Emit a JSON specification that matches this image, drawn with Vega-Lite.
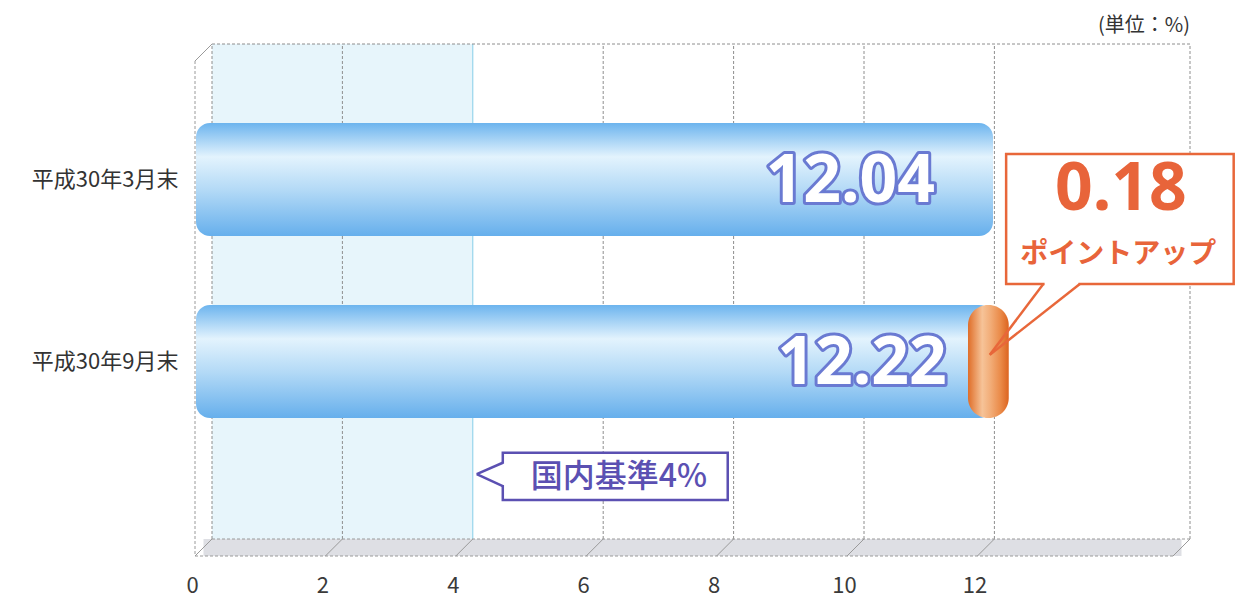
{
  "$schema": "https://vega.github.io/schema/vega-lite/v6.json",
  "width": 978,
  "height": 495,
  "autosize": {"type": "none"},
  "padding": {"left": 212, "top": 44, "right": 69, "bottom": 65},
  "background": "white",
  "title": {"text": "(単位：%)", "anchor": "end", "frame": "group", "fontSize": 20, "fontWeight": "normal", "color": "#333333", "font": "Noto Sans CJK JP", "offset": 8},
  "config": {
    "view": {"stroke": null},
    "font": "Noto Sans CJK JP",
    "axisX": {"labelFontSize": 22, "labelColor": "#3a3a3a", "labelPadding": 36, "labelOffset": -20, "labelFlush": false, "tickSize": 0, "ticks": false, "domain": false, "grid": false, "labelFont": "Noto Sans CJK JP"},
    "axisY": {"labelFontSize": 22, "labelColor": "#333333", "labelPadding": 34, "tickSize": 0, "ticks": false, "domain": false, "grid": false, "labelFont": "Noto Sans CJK JP"}
  },
  "datasets": {
    "bars": [
      {"period": "平成30年3月末", "value": 12.04, "base": 12.04},
      {"period": "平成30年9月末", "value": 12.22, "base": 12.04}
    ],
    "grid": [{"v": 0}, {"v": 2}, {"v": 4}, {"v": 6}, {"v": 8}, {"v": 10}, {"v": 12}, {"v": 15}],
    "one": [{}]
  },
  "resolve": {"scale": {"y": "independent"}, "axis": {"y": "independent"}},
  "layer": [
    {
      "data": {"name": "grid"},
      "transform": [{"filter": "datum.v === 0"}],
      "mark": {"type": "rect", "fill": "#e7f5fb"},
      "encoding": {
        "x": {"field": "v", "type": "quantitative", "title": null, "scale": {"domain": [0, 15], "nice": false, "zero": false}, "axis": {"values": [0, 2, 4, 6, 8, 10, 12], "format": "d"}},
        "x2": {"datum": 4},
        "y": {"datum": 0, "type": "quantitative", "scale": {"domain": [0, 1], "nice": false}, "axis": null, "title": null},
        "y2": {"datum": 1}
      }
    },
    {
      "data": {"name": "one"},
      "mark": {"type": "rect", "fill": "#dedfe4", "xOffset": -8.5, "x2Offset": -8.5, "y2Offset": 17},
      "encoding": {
        "x": {"datum": 0, "type": "quantitative", "title": null},
        "x2": {"datum": 15},
        "y": {"datum": 0, "type": "quantitative", "scale": {"domain": [0, 1], "nice": false}, "axis": null, "title": null},
        "y2": {"datum": 0}
      }
    },
    {
      "data": {"name": "grid"},
      "mark": {"type": "rule", "strokeWidth": 1},
      "encoding": {
        "x": {"field": "v", "type": "quantitative", "title": null},
        "y": {"datum": 0, "type": "quantitative", "scale": {"domain": [0, 1], "nice": false}, "axis": null, "title": null},
        "y2": {"datum": 1},
        "color": {"condition": {"test": "datum.v === 4", "value": "#86cde8"}, "value": "#8e8e8e"},
        "strokeDash": {"condition": {"test": "datum.v === 4", "value": [1, 0]}, "value": [3, 2]}
      }
    },
    {
      "data": {"name": "grid"},
      "mark": {"type": "rule", "color": "#9a9a9a", "strokeWidth": 1, "x2Offset": -17, "y2Offset": 17},
      "encoding": {
        "x": {"field": "v", "type": "quantitative", "title": null},
        "x2": {"field": "v"},
        "y": {"datum": 0, "type": "quantitative", "scale": {"domain": [0, 1], "nice": false}, "axis": null, "title": null},
        "y2": {"datum": 0}
      }
    },
    {
      "data": {"name": "one"},
      "mark": {"type": "rule", "color": "#8e8e8e", "strokeDash": [3, 2], "strokeWidth": 1},
      "encoding": {
        "x": {"datum": 0, "type": "quantitative", "title": null},
        "x2": {"datum": 15},
        "y": {"datum": 1, "type": "quantitative", "scale": {"domain": [0, 1], "nice": false}, "axis": null, "title": null}
      }
    },
    {
      "data": {"name": "one"},
      "mark": {"type": "rule", "color": "#9a9a9a", "strokeDash": [3, 2], "strokeWidth": 1},
      "encoding": {
        "x": {"datum": 0, "type": "quantitative", "title": null},
        "x2": {"datum": 15},
        "y": {"datum": 0, "type": "quantitative", "scale": {"domain": [0, 1], "nice": false}, "axis": null, "title": null}
      }
    },
    {
      "data": {"name": "one"},
      "mark": {"type": "rule", "color": "#9a9a9a", "strokeDash": [3, 2], "strokeWidth": 1, "xOffset": -17, "x2Offset": -17, "yOffset": 17},
      "encoding": {
        "x": {"datum": 0, "type": "quantitative", "title": null},
        "x2": {"datum": 15},
        "y": {"datum": 0, "type": "quantitative", "scale": {"domain": [0, 1], "nice": false}, "axis": null, "title": null}
      }
    },
    {
      "data": {"name": "one"},
      "mark": {"type": "rule", "color": "#9a9a9a", "strokeDash": [3, 2], "strokeWidth": 1, "xOffset": -17, "yOffset": 17, "y2Offset": 17},
      "encoding": {
        "x": {"datum": 0, "type": "quantitative", "title": null},
        "y": {"datum": 1, "type": "quantitative", "scale": {"domain": [0, 1], "nice": false}, "axis": null, "title": null},
        "y2": {"datum": 0}
      }
    },
    {
      "data": {"name": "one"},
      "mark": {"type": "rule", "color": "#9a9a9a", "strokeWidth": 1, "x2Offset": -17, "y2Offset": 17},
      "encoding": {
        "x": {"datum": 0, "type": "quantitative", "title": null},
        "x2": {"datum": 0},
        "y": {"datum": 1, "type": "quantitative", "scale": {"domain": [0, 1], "nice": false}, "axis": null, "title": null},
        "y2": {"datum": 1}
      }
    },
    {
      "data": {"name": "bars"},
      "mark": {"type": "rect", "cornerRadius": 14, "xOffset": -4, "x2Offset": -16,
        "fill": {"gradient": "linear", "x1": 0, "y1": 0, "x2": 0, "y2": 1, "stops": [
          {"offset": 0, "color": "#6cb4ee"},
          {"offset": 0.3, "color": "#e3f3fd"},
          {"offset": 0.6, "color": "#b2d9f6"},
          {"offset": 1, "color": "#66afec"}]}},
      "encoding": {
        "y": {"field": "period", "type": "nominal", "title": null, "sort": null,
          "scale": {"type": "band", "domain": ["平成30年3月末", "平成30年9月末"], "paddingInner": 0.379, "paddingOuter": 0.5494, "align": 0.395}},
        "x": {"field": "base", "type": "quantitative", "title": null},
        "x2": {"datum": 0}
      }
    },
    {
      "data": {"name": "bars"},
      "transform": [{"filter": "datum.value > datum.base"}],
      "mark": {"type": "rect", "cornerRadius": 20, "xOffset": -29,
        "fill": {"gradient": "linear", "x1": 0, "y1": 0, "x2": 1, "y2": 0, "stops": [
          {"offset": 0, "color": "#df6d28"},
          {"offset": 0.35, "color": "#f6c398"},
          {"offset": 0.55, "color": "#f2ad78"},
          {"offset": 0.8, "color": "#ea8a48"},
          {"offset": 1, "color": "#dc6420"}]}},
      "encoding": {
        "y": {"field": "period", "type": "nominal", "title": null, "axis": null,
          "scale": {"type": "band", "domain": ["平成30年3月末", "平成30年9月末"], "paddingInner": 0.379, "paddingOuter": 0.5494, "align": 0.395}},
        "x": {"field": "base", "type": "quantitative", "title": null},
        "x2": {"field": "value"}
      }
    },
    {
      "data": {"name": "bars"},
      "mark": {"type": "text", "align": "right", "baseline": "middle", "dx": -62, "dy": 2, "fontSize": 66, "fontWeight": "bold", "font": "Noto Sans", "fill": "#6a7ad2", "stroke": "#6a7ad2", "strokeWidth": 6, "strokeJoin": "round"},
      "encoding": {
        "y": {"field": "period", "type": "nominal", "title": null, "axis": null, "bandPosition": 0.5,
          "scale": {"type": "band", "domain": ["平成30年3月末", "平成30年9月末"], "paddingInner": 0.379, "paddingOuter": 0.5494, "align": 0.395}},
        "x": {"field": "value", "type": "quantitative", "title": null},
        "text": {"field": "value", "type": "quantitative", "format": ".2f"}
      }
    },
    {
      "data": {"name": "bars"},
      "mark": {"type": "text", "align": "right", "baseline": "middle", "dx": -62, "dy": 2, "fontSize": 66, "fontWeight": "bold", "font": "Noto Sans", "fill": "#ffffff"},
      "encoding": {
        "y": {"field": "period", "type": "nominal", "title": null, "axis": null, "bandPosition": 0.5,
          "scale": {"type": "band", "domain": ["平成30年3月末", "平成30年9月末"], "paddingInner": 0.379, "paddingOuter": 0.5494, "align": 0.395}},
        "x": {"field": "value", "type": "quantitative", "title": null},
        "text": {"field": "value", "type": "quantitative", "format": ".2f"}
      }
    },
    {
      "data": {"name": "one"},
      "mark": {"type": "rect", "fill": "white", "stroke": "#e8673a", "strokeWidth": 2.5},
      "encoding": {
        "x": {"datum": 12.18, "type": "quantitative", "title": null},
        "x2": {"datum": 15.67},
        "y": {"datum": 0.515, "type": "quantitative", "scale": {"domain": [0, 1], "nice": false}, "axis": null, "title": null},
        "y2": {"datum": 0.778}
      }
    },
    {
      "data": {"name": "one"},
      "mark": {"type": "rule", "color": "white", "strokeWidth": 5},
      "encoding": {
        "x": {"datum": 12.77, "type": "quantitative", "title": null},
        "x2": {"datum": 13.29},
        "y": {"datum": 0.515, "type": "quantitative", "scale": {"domain": [0, 1], "nice": false}, "axis": null, "title": null}
      }
    },
    {
      "data": {"name": "one"},
      "mark": {"type": "rule", "color": "#e8673a", "strokeWidth": 2.5},
      "encoding": {
        "x": {"datum": 12.75, "type": "quantitative", "title": null},
        "x2": {"datum": 11.93},
        "y": {"datum": 0.515, "type": "quantitative", "scale": {"domain": [0, 1], "nice": false}, "axis": null, "title": null},
        "y2": {"datum": 0.372}
      }
    },
    {
      "data": {"name": "one"},
      "mark": {"type": "rule", "color": "#e8673a", "strokeWidth": 2.5},
      "encoding": {
        "x": {"datum": 13.31, "type": "quantitative", "title": null},
        "x2": {"datum": 11.93},
        "y": {"datum": 0.515, "type": "quantitative", "scale": {"domain": [0, 1], "nice": false}, "axis": null, "title": null},
        "y2": {"datum": 0.372}
      }
    },
    {
      "data": {"name": "one"},
      "mark": {"type": "text", "text": "0.18", "align": "center", "baseline": "middle", "fontSize": 66, "fontWeight": "bold", "font": "Noto Sans", "color": "#e8643a"},
      "encoding": {
        "x": {"datum": 13.94, "type": "quantitative", "title": null},
        "y": {"datum": 0.705, "type": "quantitative", "scale": {"domain": [0, 1], "nice": false}, "axis": null, "title": null}
      }
    },
    {
      "data": {"name": "one"},
      "mark": {"type": "text", "text": "ポイントアップ", "align": "center", "baseline": "middle", "fontSize": 28, "fontWeight": "bold", "font": "Noto Sans CJK JP", "color": "#e8643a"},
      "encoding": {
        "x": {"datum": 13.9, "type": "quantitative", "title": null},
        "y": {"datum": 0.574, "type": "quantitative", "scale": {"domain": [0, 1], "nice": false}, "axis": null, "title": null}
      }
    },
    {
      "data": {"name": "one"},
      "mark": {"type": "rect", "fill": "white", "stroke": "#5b50b2", "strokeWidth": 2.5},
      "encoding": {
        "x": {"datum": 4.46, "type": "quantitative", "title": null},
        "x2": {"datum": 7.91},
        "y": {"datum": 0.079, "type": "quantitative", "scale": {"domain": [0, 1], "nice": false}, "axis": null, "title": null},
        "y2": {"datum": 0.174}
      }
    },
    {
      "data": {"name": "one"},
      "mark": {"type": "rule", "color": "white", "strokeWidth": 5},
      "encoding": {
        "x": {"datum": 4.46, "type": "quantitative", "title": null},
        "y": {"datum": 0.109, "type": "quantitative", "scale": {"domain": [0, 1], "nice": false}, "axis": null, "title": null},
        "y2": {"datum": 0.152}
      }
    },
    {
      "data": {"name": "one"},
      "mark": {"type": "rule", "color": "#5b50b2", "strokeWidth": 2.5},
      "encoding": {
        "x": {"datum": 4.46, "type": "quantitative", "title": null},
        "x2": {"datum": 4.06},
        "y": {"datum": 0.154, "type": "quantitative", "scale": {"domain": [0, 1], "nice": false}, "axis": null, "title": null},
        "y2": {"datum": 0.131}
      }
    },
    {
      "data": {"name": "one"},
      "mark": {"type": "rule", "color": "#5b50b2", "strokeWidth": 2.5},
      "encoding": {
        "x": {"datum": 4.46, "type": "quantitative", "title": null},
        "x2": {"datum": 4.06},
        "y": {"datum": 0.107, "type": "quantitative", "scale": {"domain": [0, 1], "nice": false}, "axis": null, "title": null},
        "y2": {"datum": 0.131}
      }
    },
    {
      "data": {"name": "one"},
      "mark": {"type": "text", "text": "国内基準4%", "align": "center", "baseline": "middle", "fontSize": 32, "fontWeight": 500, "font": "Noto Sans CJK JP", "color": "#5b50b2"},
      "encoding": {
        "x": {"datum": 6.24, "type": "quantitative", "title": null},
        "y": {"datum": 0.125, "type": "quantitative", "scale": {"domain": [0, 1], "nice": false}, "axis": null, "title": null}
      }
    }
  ]
}
